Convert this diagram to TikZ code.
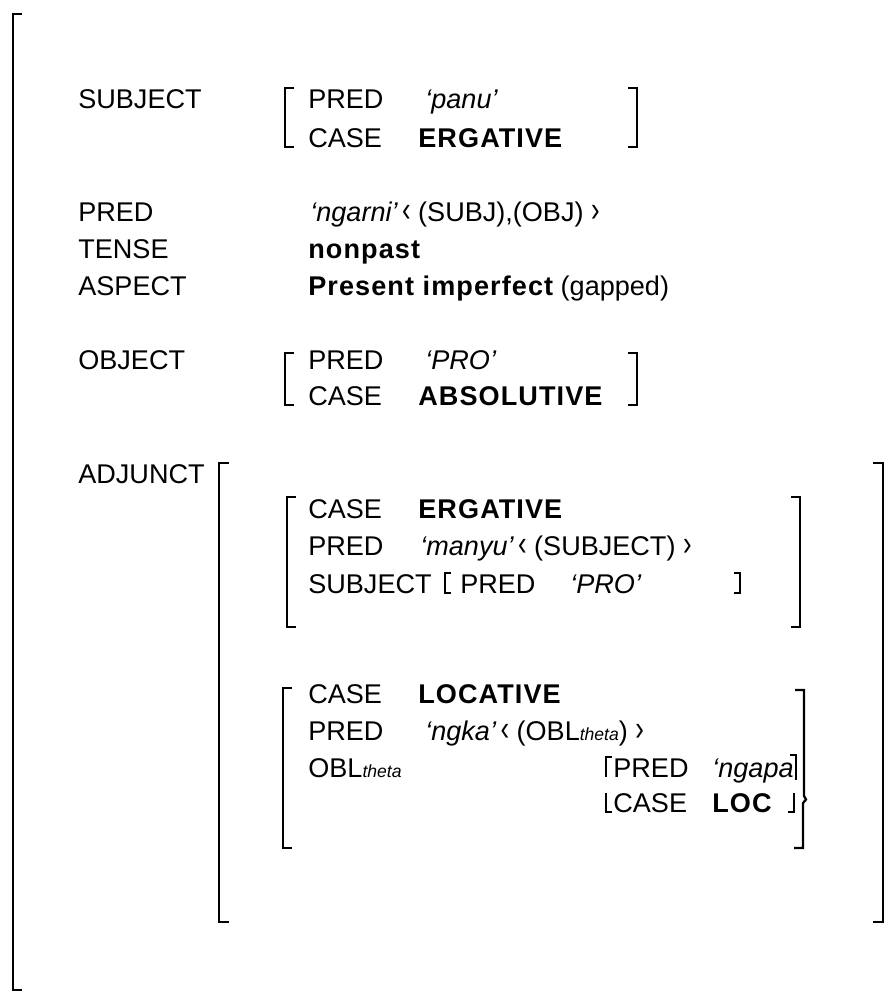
\documentclass[tikz,border=0pt]{standalone}
\usepackage{fontspec}
\setmainfont{Liberation Sans}
\newfontfamily\spaced[LetterSpace=4]{Liberation Sans}
\newcommand{\langl}{\scalebox{0.95}[1.3]{‹}}
\newcommand{\rangl}{\scalebox{0.95}[1.3]{›}}

\begin{document}
\begin{tikzpicture}[
    att/.style={anchor=base west, inner sep=0pt, font=\fontsize{15.4}{18}\selectfont},
    val/.style={att, font=\fontsize{15.4}{18}\selectfont\spaced\bfseries},
    sym/.style={att, font=\fontsize{15.4}{18}\selectfont\itshape},
    brk/.style={line width=1.3pt},
    obrk/.style={line width=1.6pt}
]
\useasboundingbox (0,0) rectangle (17.9,-19.92);

% outer structure
\draw[obrk] (0.44,-0.28) -- (0.26,-0.28) -- (0.26,-19.80) -- (0.44,-19.80);

% SUBJECT
\node[att] (subj) at (1.56,-2.18) {SUBJECT};
\draw[brk] (5.88,-1.76) -- (5.70,-1.76) -- (5.70,-2.94) -- (5.88,-2.94);
\node[att] (spred) at (6.16,-2.18) {PRED};
\node[sym] (spredv) at (8.50,-2.18) {`panu'};
\node[att] (scase) at (6.16,-2.94) {CASE};
\node[val] (scasev) at (8.36,-2.94) {ERGATIVE};
\draw[brk] (12.56,-1.76) -- (12.74,-1.76) -- (12.74,-2.94) -- (12.56,-2.94);

% PRED, TENSE, ASPECT
\node[att] (pred) at (1.56,-4.42) {PRED};
\node[att] (predv) at (6.20,-4.42) {{\itshape `ngarni'}\,\langl\ (SUBJ),(OBJ) \rangl};
\node[att] (tense) at (1.56,-5.16) {TENSE};
\node[val] (tensev) at (6.16,-5.16) {nonpast};
\node[att] (aspect) at (1.56,-5.90) {ASPECT};
\node[att] (aspectv) at (6.16,-5.90) {{\spaced\bfseries Present imperfect} (gapped)};

% OBJECT
\node[att] (obj) at (1.56,-7.38) {OBJECT};
\draw[brk] (5.88,-7.06) -- (5.70,-7.06) -- (5.70,-8.10) -- (5.88,-8.10);
\node[att] (opred) at (6.16,-7.38) {PRED};
\node[sym] (opredv) at (8.50,-7.38) {`PRO'};
\node[att] (ocase) at (6.16,-8.10) {CASE};
\node[val] (ocasev) at (8.36,-8.10) {ABSOLUTIVE};
\draw[brk] (12.56,-7.06) -- (12.74,-7.06) -- (12.74,-8.10) -- (12.56,-8.10);

% ADJUNCT
\node[att] (adj) at (1.56,-9.66) {ADJUNCT};
\draw[brk] (4.58,-9.26) -- (4.38,-9.26) -- (4.38,-18.44) -- (4.58,-18.44);
\draw[brk] (17.46,-9.26) -- (17.66,-9.26) -- (17.66,-18.44) -- (17.46,-18.44);

% first adjunct
\draw[brk] (5.92,-9.94) -- (5.74,-9.94) -- (5.74,-12.54) -- (5.92,-12.54);
\node[att] (acase) at (6.16,-10.36) {CASE};
\node[val] (acasev) at (8.36,-10.36) {ERGATIVE};
\node[att] (apred) at (6.16,-11.10) {PRED};
\node[att] (apredv) at (8.40,-11.10) {{\itshape `manyu'}\,\langl\ (SUBJECT) \rangl};
\node[att] (asubj) at (6.16,-11.86) {SUBJECT};
\draw[brk] (9.02,-11.46) -- (8.90,-11.46) -- (8.90,-11.86) -- (9.02,-11.86);
\node[att] (aspred) at (9.20,-11.86) {PRED};
\node[sym] (aspredv) at (11.40,-11.86) {`PRO'};
\draw[brk] (14.68,-11.46) -- (14.80,-11.46) -- (14.80,-11.86) -- (14.68,-11.86);
\draw[brk] (15.82,-9.94) -- (16.00,-9.94) -- (16.00,-12.54) -- (15.82,-12.54);

% second adjunct
\draw[brk] (5.84,-13.76) -- (5.66,-13.76) -- (5.66,-16.96) -- (5.84,-16.96);
\node[att] (lcase) at (6.16,-14.06) {CASE};
\node[val] (lcasev) at (8.36,-14.06) {LOCATIVE};
\node[att] (lpred) at (6.16,-14.80) {PRED};
\node[att] (lpredv) at (8.50,-14.80) {{\itshape `ngka'}\,\langl\ (OBL{\fontsize{10}{12}\selectfont\itshape theta}) \rangl};
\node[att] (lobl) at (6.16,-15.54) {OBL{\fontsize{10}{12}\selectfont\itshape theta}};
\draw[brk] (12.24,-15.14) -- (12.12,-15.14) -- (12.12,-15.54);
\node[att] (npred) at (12.26,-15.54) {PRED};
\node[sym] (npredv) at (14.24,-15.54) {`ngapa};
\draw[brk] (15.80,-15.10) -- (15.92,-15.10) -- (15.92,-15.60);
\draw[brk] (12.12,-15.86) -- (12.12,-16.24) -- (12.24,-16.24);
\node[att] (ncase) at (12.26,-16.24) {CASE};
\node[val] (ncasev) at (14.24,-16.24) {LOC};
\draw[brk] (15.88,-15.86) -- (15.88,-16.24) -- (15.76,-16.24);
\draw[brk] (15.90,-13.80) -- (16.08,-13.80) -- (16.08,-15.92) -- (16.12,-15.99)
    -- (16.06,-16.06) -- (16.06,-16.96) -- (15.88,-16.96);
\end{tikzpicture}
\end{document}
